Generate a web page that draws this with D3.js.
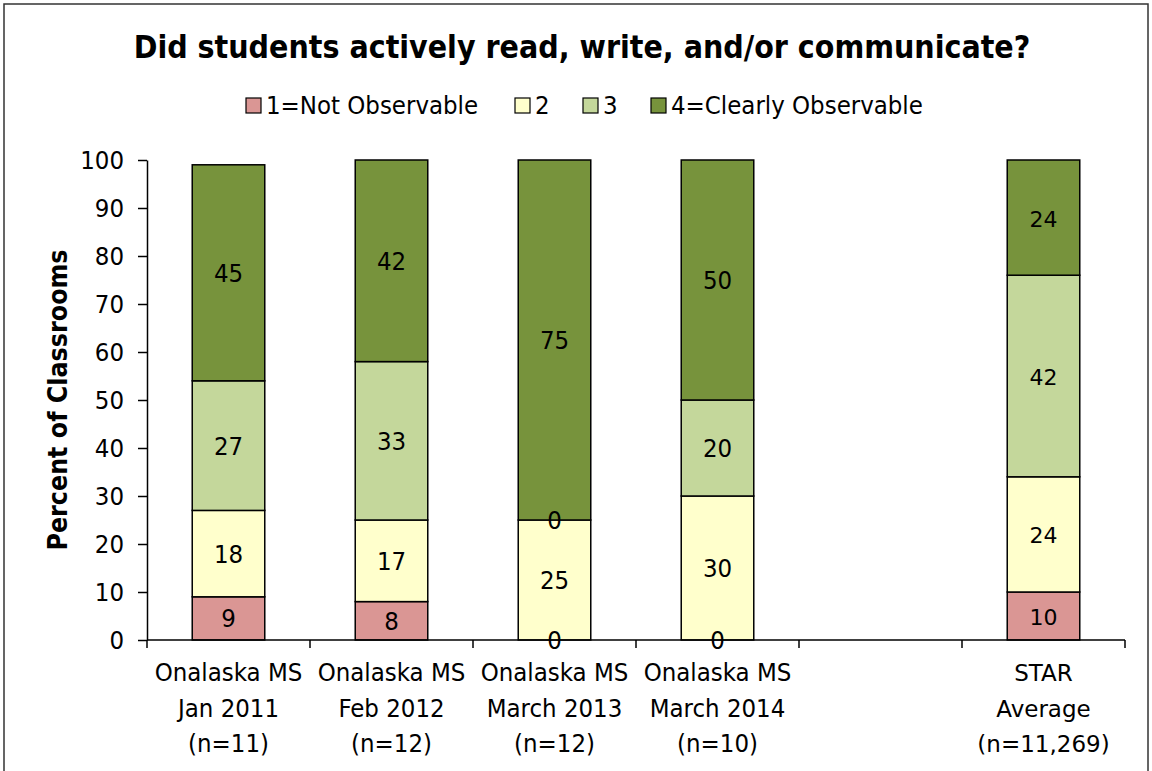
<!DOCTYPE html>
<html><head><meta charset="utf-8">
<script src="https://cdn.jsdelivr.net/npm/d3@7"></script>
<style>body{margin:0;background:#fff}svg{display:block}</style>
</head><body>
<svg id="c" width="1152" height="771"></svg>
<script>
const categories = [
  ["Onalaska MS","Jan 2011","(n=11)"],
  ["Onalaska MS","Feb 2012","(n=12)"],
  ["Onalaska MS","March 2013","(n=12)"],
  ["Onalaska MS","March 2014","(n=10)"],
  null,
  ["STAR","Average","(n=11,269)"]
];
const seriesNames = ["1=Not Observable","2","3","4=Clearly Observable"];
const seriesColors = ["#DA9694","#FFFFCC","#C4D79B","#77933C"];
const notObservable   = [9, 8, 0, 0, null, 10];
const level2          = [18, 17, 25, 30, null, 24];
const level3          = [27, 33, 0, 20, null, 42];
const clearlyObserv   = [45, 42, 75, 50, null, 24];
const yTicks = [0,10,20,30,40,50,60,70,80,90,100];

(function(){
const series = [notObservable, level2, level3, clearlyObserv];
const svg = d3.select("#c");
const fontC = "'DejaVu Sans Condensed','DejaVu Sans',sans-serif";
const fontV = "'DejaVu Sans',sans-serif";
const fs = 25.5;

// frame
svg.append("rect").attr("x",4).attr("y",4).attr("width",1144).attr("height",790)
  .attr("fill","none").attr("stroke","#333").attr("stroke-width",1.5);

const pL = 147, pR = 1125, pT = 160, pB = 640;
const x = d3.scaleBand().domain(d3.range(categories.length)).range([pL,pR]).paddingInner(0).paddingOuter(0);
const y = d3.scaleLinear().domain([0,100]).range([pB,pT]);
const bw = x.bandwidth()*0.445;

// title
const title = svg.append("text").attr("x",582).attr("y",58).attr("text-anchor","middle")
  .attr("font-family",fontC).attr("font-weight","bold").attr("font-size",27)
  .text("Did students actively read, write, and/or communicate?");
{
  const w = title.node().getComputedTextLength();
  title.attr("font-size", 27*897/w);
}

// legend
const legendX = [246, 515, 583, 651];
seriesNames.forEach((n,i)=>{
  svg.append("rect").attr("x",legendX[i]).attr("y",98).attr("width",15).attr("height",15)
    .attr("fill",seriesColors[i]).attr("stroke","#000").attr("stroke-width",1.2);
  svg.append("text").attr("x",legendX[i]+20).attr("y",114)
    .attr("font-family",fontC).attr("font-size",fs).text(n);
});

// stacked bars
const stacks = categories.map((c,ci)=>{
  let acc = 0;
  return series.map((s,si)=>{
    const v = s[ci];
    const seg = {ci, si, v, y0: acc, y1: acc + (v||0)};
    acc += (v||0);
    return seg;
  });
});
const segs = stacks.flat().filter(d=>d.v!==null);
svg.append("g").selectAll("rect").data(segs.filter(d=>d.v>0)).join("rect")
  .attr("x",d=>x(d.ci)+(x.bandwidth()-bw)/2)
  .attr("width",bw)
  .attr("y",d=>y(d.y1))
  .attr("height",d=>y(d.y0)-y(d.y1))
  .attr("fill",d=>seriesColors[d.si])
  .attr("stroke","#000").attr("stroke-width",1.5);

svg.append("g").selectAll("text").data(segs).join("text")
  .attr("x",d=>x(d.ci)+x.bandwidth()/2)
  .attr("y",d=>(y(d.y0)+y(d.y1))/2+9)
  .attr("text-anchor","middle")
  .attr("font-family",d=>d.ci===5?fontV:fontC)
  .attr("font-size",d=>d.ci===5?22:fs)
  .text(d=>d.v);

// y axis
const ya = svg.append("g").attr("transform",`translate(${pL},0)`)
  .call(d3.axisLeft(y).tickValues(yTicks).tickSize(9).tickSizeOuter(0).tickPadding(14));
ya.select(".domain").attr("stroke","#000").attr("stroke-width",1.5);
ya.selectAll(".tick line").attr("stroke","#000").attr("stroke-width",1.5);
ya.selectAll(".tick text").attr("font-family",fontC).attr("font-size",fs).attr("fill","#000").attr("dy","0.35em");

// x axis
const xa = svg.append("g").attr("transform",`translate(0,${pB})`);
xa.append("line").attr("x1",pL).attr("x2",pR).attr("stroke","#000").attr("stroke-width",1.5);
const edges = d3.range(categories.length+1).map(i=> i<categories.length ? x(i) : x(categories.length-1)+x.bandwidth());
xa.selectAll("line.t").data(edges).join("line").attr("class","t")
  .attr("x1",d=>d).attr("x2",d=>d).attr("y1",0).attr("y2",8)
  .attr("stroke","#000").attr("stroke-width",1.5);

categories.forEach((c,ci)=>{
  if(!c) return;
  const t = svg.append("text").attr("text-anchor","middle")
    .attr("font-family",ci===5?fontV:fontC).attr("font-size",ci===5?23:fs);
  c.forEach((line,li)=>{
    t.append("tspan").attr("x",x(ci)+x.bandwidth()/2).attr("y",681+li*35.5).text(line);
  });
});

// y title
svg.append("text").attr("transform","translate(67,400) rotate(-90)")
  .attr("text-anchor","middle").attr("font-family",fontC).attr("font-weight","bold")
  .attr("font-size",26.5).text("Percent of Classrooms");
})();
</script>
</body></html>
